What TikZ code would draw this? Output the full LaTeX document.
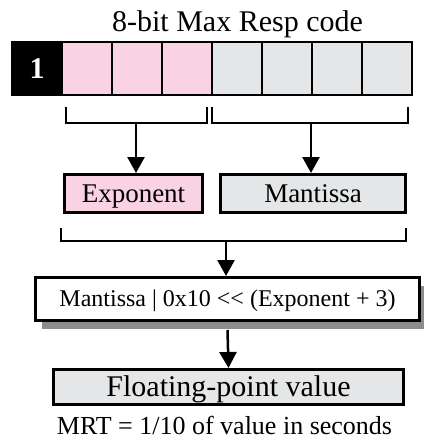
\documentclass[tikz,border=0pt]{standalone}
\usepackage{fontspec}
\setmainfont{Liberation Serif}
\usetikzlibrary{arrows.meta,shadows}

\definecolor{exppink}{RGB}{249,211,228}
\definecolor{mantgray}{RGB}{229,230,231}

\tikzset{
  bitcell/.style={draw, line width=2.5pt, minimum width=50pt, minimum height=53pt, inner sep=0pt, outer sep=0pt},
  fieldbox/.style={draw, line width=3pt, inner sep=0pt, text depth=0pt},
  bracketline/.style={line width=2pt},
  downarrow/.style={line width=2.5pt, -{Triangle[width=17pt,length=16pt]}}
}

\begin{document}
\begin{tikzpicture}[x=1pt, y=-1pt]
  \useasboundingbox (0,0) rectangle (423,441);
  \node[anchor=base, font=\fontsize{30}{32}\selectfont] (title) at (237.5,32) {8-bit Max Resp code};
  % the eight bits of the code
  \node[bitcell, fill=black, text=white, font=\fontsize{30}{32}\selectfont\bfseries] (b0) at (37,68.5) {1};
  \foreach \i in {1,2,3}
    \node[bitcell, fill=exppink] (b\i) at (37+50*\i,68.5) {};
  \foreach \i in {4,...,7}
    \node[bitcell, fill=mantgray] (b\i) at (37+50*\i,68.5) {};

  % fields
  \node[fieldbox, fill=exppink, minimum width=138pt, minimum height=38pt, text height=17.9pt, font=\fontsize{27}{30}\selectfont] (expo) at (133.5,193.5) {Exponent};
  \node[fieldbox, fill=mantgray, minimum width=185pt, minimum height=38pt, text height=17.9pt, font=\fontsize{27}{30}\selectfont] (mant) at (313,193.5) {Mantissa};

  \draw[bracketline] (66,107) -- (66,123) -- (207,123) -- (207,107);
  \draw[bracketline] (212,107) -- (212,123) -- (408,123) -- (408,107);
  \coordinate (expbr) at (136,123);
  \coordinate (mantbr) at (311,123);
  \draw[downarrow] (expbr) -- (expbr |- expo.north);
  \draw[downarrow] (mantbr) -- (mantbr |- mant.north);

  % calculation
  \node[fieldbox, fill=white, minimum width=384pt, minimum height=43pt, text height=15.9pt,
        font=\fontsize{24}{28}\selectfont,
        drop shadow={shadow xshift=6pt, shadow yshift=-8pt, fill=black!45, opacity=1}]
        (calc) at (227.5,299) {Mantissa | 0x10 <{}< (Exponent + 3)};
  \draw[bracketline] (61,228) -- (61,241) -- (406,241) -- (406,228);
  \coordinate (sumbr) at (226,241);
  \draw[downarrow] (sumbr) -- (sumbr |- calc.north);

  % result
  \node[fieldbox, fill=mantgray, minimum width=350pt, minimum height=35pt, text height=19.9pt, font=\fontsize{30}{32}\selectfont] (result) at (228.5,387) {Floating-point value};
  \draw[downarrow] ([yshift=-8pt]calc.south) -- (result.north);
  \node[anchor=base, font=\fontsize{26}{28}\selectfont] (mrt) at (224.5,434) {MRT = 1/10 of value in seconds};
\end{tikzpicture}
\end{document}
